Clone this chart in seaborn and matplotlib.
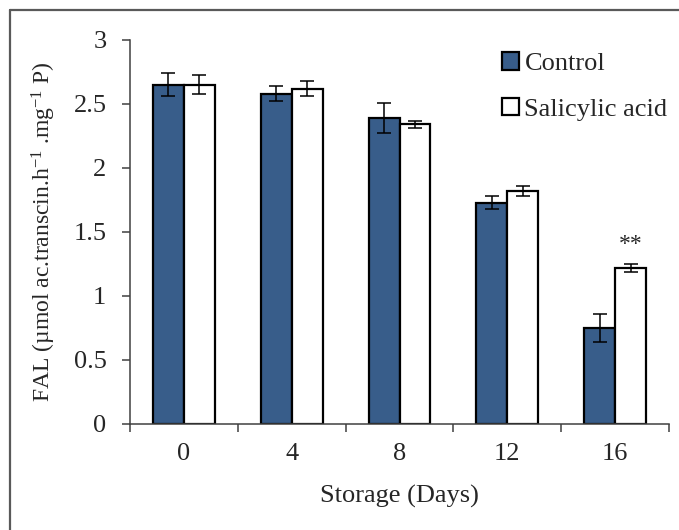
import matplotlib
matplotlib.use('Agg')
import matplotlib.pyplot as plt
import seaborn as sns
import pandas as pd
from matplotlib.lines import Line2D

# values
days = ['0', '4', '8', '12', '16']
control = [2.65, 2.58, 2.39, 1.73, 0.75]
control_err = [0.09, 0.06, 0.12, 0.05, 0.11]
salicylic = [2.65, 2.62, 2.34, 1.82, 1.22]
salicylic_err = [0.075, 0.06, 0.03, 0.04, 0.03]
treatments = ['Control', 'Salicylic acid']
y_ticks = [0, 0.5, 1, 1.5, 2, 2.5, 3]
y_tick_labels = ['0', '0.5', '1', '1.5', '2', '2.5', '3']

df = pd.DataFrame({
    'day': days * 2,
    'fal': control + salicylic,
    'treatment': [treatments[0]] * 5 + [treatments[1]] * 5,
})

sns.set_style('white')
plt.rcParams['font.family'] = ['Liberation Serif', 'DejaVu Serif']
plt.rcParams['mathtext.fontset'] = 'custom'
plt.rcParams['mathtext.rm'] = 'Liberation Serif'
plt.rcParams['mathtext.it'] = 'Liberation Serif:italic'

fs = 19
W, H = 679, 530

fig = plt.figure(figsize=(6.79, 5.30), dpi=100)
ax = fig.add_axes([130 / W, 1 - 424 / H, (669 - 130) / W, (424 - 40) / H])

palette = {'Control': '#385D8A', 'Salicylic acid': 'white'}
sns.barplot(data=df, x='day', y='fal', hue='treatment', order=days,
            hue_order=treatments, palette=palette, width=0.574, saturation=1,
            edgecolor='black', linewidth=1.6, errorbar=None, ax=ax)

# error bars on each bar
for cont, errs in zip(ax.containers, [control_err, salicylic_err]):
    for bar, e in zip(cont, errs):
        xc = bar.get_x() + bar.get_width() / 2
        ax.errorbar(xc, bar.get_height(), yerr=e, fmt='none', ecolor='black',
                    elinewidth=1.1, capsize=5, capthick=1.1, zorder=5)

# significance mark
sa_bar = ax.containers[1][4]
ax.text(sa_bar.get_x() + sa_bar.get_width() / 2, salicylic[4] + 0.1, '**',
        ha='center', va='bottom', fontsize=17)

ax.set_xlim(-0.5, 4.5)
ax.set_ylim(0, 3)
ax.set_yticks(y_ticks)
ax.set_yticklabels(y_tick_labels)
ax.set_xticks(range(5))
ax.set_xticks([i - 0.5 for i in range(6)], minor=True)
ax.tick_params(axis='x', which='major', length=0, pad=14, labelsize=fs)
ax.tick_params(axis='x', which='minor', length=6, width=1.1, color='#404040',
               direction='out', bottom=True)
ax.tick_params(axis='y', length=6, width=1.1, color='#404040', direction='out',
               left=True, pad=11, labelsize=fs)

for s in ['top', 'right']:
    ax.spines[s].set_visible(False)
for s in ['left', 'bottom']:
    ax.spines[s].set_color('#404040')
    ax.spines[s].set_linewidth(1.1)

ax.set_xlabel('Storage (Days)', fontsize=fs, labelpad=14)
ax.set_ylabel('FAL (µmol ac.transcin.h$^{-1}$ .mg$^{-1}$ P)', fontsize=17, labelpad=11)

leg = ax.legend(loc='upper left', bbox_to_anchor=(502 / W, 1 - 52 / H),
                bbox_transform=fig.transFigure, frameon=False, borderpad=0,
                borderaxespad=0, fontsize=fs, handlelength=0.65, handleheight=0.65,
                handletextpad=0.2, labelspacing=0.85)

# frame of the picture: only its top and left edges show
fig.add_artist(Line2D([10 / W, 10 / W], [0, 1 - 10 / H], transform=fig.transFigure,
                      color='#595959', linewidth=1.6))
fig.add_artist(Line2D([10 / W, 1], [1 - 10 / H, 1 - 10 / H], transform=fig.transFigure,
                      color='#595959', linewidth=1.6))

fig.savefig('out.png', dpi=100)
